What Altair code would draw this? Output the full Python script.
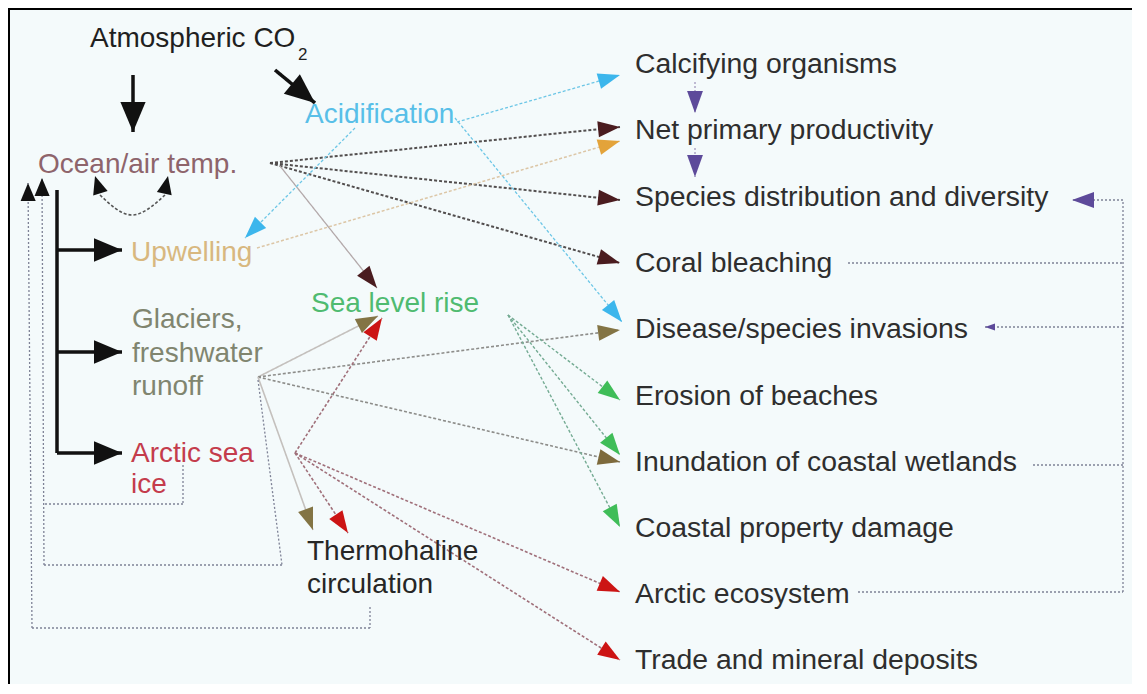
import math
import altair as alt
import pandas as pd

# ---------------- plot geometry (figure pixel coordinates) ----------------
PX0, PX1 = 8, 1132
PY0, PY1 = 8, 684
W, H = PX1 - PX0, PY1 - PY0

# ---------------- node labels ----------------
label_text = [
    "Atmospheric CO", "2", "Acidification", "Ocean/air temp.", "Upwelling",
    "Sea level rise", "Glaciers,", "freshwater", "runoff", "Arctic sea", "ice",
    "Thermohaline", "circulation",
    "Calcifying organisms", "Net primary productivity",
    "Species distribution and diversity", "Coral bleaching",
    "Disease/species invasions", "Erosion of beaches",
    "Inundation of coastal wetlands", "Coastal property damage",
    "Arctic ecosystem", "Trade and mineral deposits",
]
label_x = [90, 298, 305, 38, 131, 311, 132, 132, 132, 131, 131, 307, 307,
           635, 635, 635, 635, 635, 635, 635, 635, 635, 635]
label_y = [47, 60, 123, 173, 261, 312, 328, 362, 395, 462, 493, 560, 593,
           73, 139, 206, 272, 338, 405, 471, 537, 603, 669]
label_group = ["co2", "co2sub", "acid", "ocean", "upw", "slr", "glac", "glac",
               "glac", "arctic", "arctic", "thermo", "thermo",
               "out", "out", "out", "out", "out", "out", "out", "out", "out", "out"]

label_style = {  # colour, font size
    "co2": ("#1f1f1f", 28), "co2sub": ("#1f1f1f", 17), "acid": ("#58bfe8", 28),
    "ocean": ("#8e646b", 28), "upw": ("#d8b87f", 28), "slr": ("#4fbb70", 28),
    "glac": ("#80856f", 28), "arctic": ("#c43c4c", 28), "thermo": ("#262626", 28),
    "out": ("#2e2e2e", 28.4),
}

# ---------------- links ----------------
src_x = [133, 275, 57, 57, 57, 57,
         270, 270, 270, 280,
         457, 455, 355, 257,
         258, 258, 258, 258,
         295, 295, 295, 295,
         508, 508, 508,
         695, 695,
         848, 1033, 858, 1123, 1123, 1123,
         183, 183, 258, 282, 44, 370, 370, 32]
src_y = [75, 70, 190, 250, 352, 453,
         163, 163, 163, 166,
         122, 118, 128, 248,
         377, 377, 377, 377,
         453, 453, 453, 453,
         315, 315, 315,
         82, 148,
         263, 465, 592, 592, 200, 327,
         465, 504, 380, 565, 565, 607, 628, 628]
dst_x = [133, 315, 57, 122, 122, 122,
         620, 620, 620, 377,
         620, 622, 245, 620,
         378, 620, 620, 313,
         382, 348, 620, 620,
         620, 620, 620,
         695, 695,
         1123, 1123, 1123, 1123, 1072, 985,
         183, 44, 282, 44, 42, 370, 32, 28]
dst_y = [132, 103, 453, 250, 352, 453,
         127, 200, 263, 288,
         75, 322, 238, 141,
         316, 330, 462, 530,
         318, 533, 592, 660,
         400, 455, 527,
         113, 177,
         263, 465, 592, 200, 200, 327,
         504, 504, 565, 565, 178, 628, 628, 183]
link_kind = ["black", "black", "black", "black", "black", "black",
             "ocean", "ocean", "ocean", "ocean_light",
             "acid", "acid", "acid", "upw",
             "glac_light", "glac", "glac", "glac_light",
             "arctic", "arctic", "arctic", "arctic",
             "slr", "slr", "slr",
             "purple", "purple",
             "feedback", "feedback", "feedback", "feedback", "feedback", "feedback",
             "feedback", "feedback", "feedback", "feedback", "feedback",
             "feedback", "feedback", "feedback"]
head_kind = ["black_big", "black_big", "", "black", "black", "black",
             "brown", "brown", "brown", "brown",
             "blue", "blue", "blue", "orange",
             "olive", "olive", "olive2", "olive",
             "red", "red", "red", "red",
             "green", "green", "green",
             "purple", "purple",
             "", "", "", "", "purple", "purple_small",
             "", "", "", "", "black_small", "", "", "black_small"]

# small curved feedback under "Ocean/air temp."
arc_x = [100, 132, 165]
arc_y = [195, 215, 195]
arc_head_from_x = [101, 164]
arc_head_from_y = [195, 195]
arc_head_x = [95, 168]
arc_head_y = [176, 176]

link_style = {  # colour, dash, width
    "black": ("#111111", "solid", 3.5),
    "ocean": ("#524e4e", "dot", 2.0),
    "ocean_light": ("#b3a9aa", "solid", 1.3),
    "acid": ("#6cc6e6", "dot", 1.3),
    "upw": ("#dcc6a6", "dot", 1.5),
    "glac": ("#8d8d8a", "dot", 1.6),
    "glac_light": ("#c4c0bd", "solid", 1.6),
    "arctic": ("#a0707a", "dot", 1.6),
    "slr": ("#74ab93", "dot", 1.4),
    "feedback": ("#7e8296", "fine", 1.3),
    "purple": ("#9a90b8", "fine", 1.2),
    "arc": ("#555555", "dot", 1.6),
}
head_style = {  # colour, length in px, wide?
    "black_big": ("#111111", 30, True), "black": ("#111111", 28, True),
    "black_small": ("#111111", 18, True),
    "brown": ("#4a1c1f", 22, False), "blue": ("#3cb6ec", 22, False),
    "orange": ("#e3a33a", 22, False), "olive": ("#837444", 22, False),
    "olive2": ("#7d6a3c", 22, False),
    "red": ("#cc1414", 22, False), "green": ("#3fbd58", 22, False),
    "purple": ("#5d4a9a", 22, False), "purple_small": ("#5d4a9a", 10, False),
}
dash_styles = ["solid", "dot", "fine"]
dash_ranges = [[1, 0], [3, 2], [2, 2]]

# ---------------- tables ----------------
links = pd.DataFrame({"x": src_x, "y": src_y, "x2": dst_x, "y2": dst_y, "kind": link_kind})
links["col"] = [link_style[k][0] for k in link_kind]
links["dash"] = [link_style[k][1] for k in link_kind]
links["sw"] = [link_style[k][2] for k in link_kind]


def angle(x1, y1, x2, y2):
    return math.degrees(math.atan2(x2 - x1, -(y2 - y1))) % 360


heads = []
for x1, y1, x2, y2, hk in zip(src_x, src_y, dst_x, dst_y, head_kind):
    if hk:
        c, L, wide = head_style[hk]
        heads.append({"x": x2, "y": y2, "ang": angle(x1, y1, x2, y2),
                      "col": c, "size": (2 * L) ** 2, "wide": wide})
for fx, fy, tx, ty in zip(arc_head_from_x, arc_head_from_y, arc_head_x, arc_head_y):
    c, L, wide = head_style["black_small"]
    heads.append({"x": tx, "y": ty, "ang": angle(fx, fy, tx, ty),
                  "col": c, "size": (2 * L) ** 2, "wide": wide})
heads = pd.DataFrame(heads)

labels = pd.DataFrame({"text": label_text, "x": label_x, "y": label_y})
labels["col"] = [label_style[g][0] for g in label_group]
labels["fs"] = [label_style[g][1] for g in label_group]

arc = pd.DataFrame({"x": arc_x, "y": arc_y, "order": range(len(arc_x))})

# ---------------- encodings ----------------
xs = alt.Scale(domain=[PX0, PX1], nice=False, zero=False)
ys = alt.Scale(domain=[PY0, PY1], nice=False, zero=False, reverse=True)
X = alt.X("x:Q", scale=xs, axis=None)
Y = alt.Y("y:Q", scale=ys, axis=None)

rules = alt.Chart(links).mark_rule(strokeCap="butt").encode(
    x=X, y=Y, x2="x2:Q", y2="y2:Q",
    color=alt.Color("col:N", scale=None),
    strokeDash=alt.StrokeDash("dash:N", scale=alt.Scale(domain=dash_styles, range=dash_ranges), legend=None),
    strokeWidth=alt.StrokeWidth("sw:Q", scale=None),
)

arc_line = alt.Chart(arc).mark_line(
    interpolate="natural", color=link_style["arc"][0], strokeDash=[3, 2],
    strokeWidth=link_style["arc"][2]
).encode(x=X, y=Y, order="order:Q")

WIDE = "M0,0L-0.42,1L0.42,1Z"
NARROW = "M0,0L-0.36,1L0.36,1Z"

heads_wide = alt.Chart(heads[heads["wide"]]).mark_point(
    shape=WIDE, filled=True, opacity=1, strokeWidth=0
).encode(x=X, y=Y, angle=alt.Angle("ang:Q", scale=None),
         size=alt.Size("size:Q", scale=None), color=alt.Color("col:N", scale=None))

heads_narrow = alt.Chart(heads[~heads["wide"]]).mark_point(
    shape=NARROW, filled=True, opacity=1, strokeWidth=0
).encode(x=X, y=Y, angle=alt.Angle("ang:Q", scale=None),
         size=alt.Size("size:Q", scale=None), color=alt.Color("col:N", scale=None))

texts = alt.Chart(labels).mark_text(
    align="left", baseline="alphabetic", font="Liberation Sans"
).encode(x=X, y=Y, text="text:N",
         color=alt.Color("col:N", scale=None), size=alt.Size("fs:Q", scale=None))

border_left = alt.Chart(labels).mark_rule(color="black", strokeWidth=3).encode(
    x=alt.value(0), y=alt.value(0), y2=alt.value(H))
border_top = alt.Chart(labels).mark_rule(color="black", strokeWidth=3).encode(
    x=alt.value(0), x2=alt.value(W), y=alt.value(0))

chart = alt.layer(
    rules, arc_line, heads_narrow, heads_wide, texts, border_left, border_top
).properties(
    width=W, height=H, padding=0, autosize="none", background="white"
).configure_view(stroke=None, fill="#f4fafb")

chart.save("out.html", embed_options={"renderer": "svg", "actions": False})
